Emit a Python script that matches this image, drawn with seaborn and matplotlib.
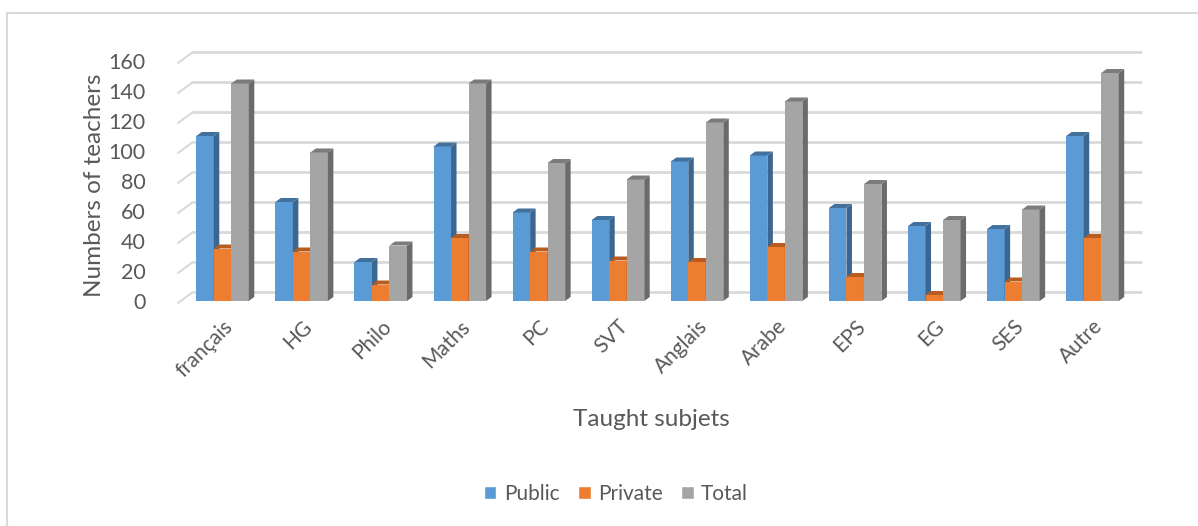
import seaborn as sns
import matplotlib.pyplot as plt
import pandas as pd
from matplotlib.patches import Polygon, Rectangle

subjects = ['français', 'HG', 'Philo', 'Maths', 'PC', 'SVT', 'Anglais',
            'Arabe', 'EPS', 'EG', 'SES', 'Autre']
public = [110, 66, 26, 103, 59, 54, 93, 97, 62, 50, 48, 110]
private = [35, 33, 11, 42, 33, 27, 26, 36, 16, 4, 13, 42]
total = [145, 99, 37, 145, 92, 81, 119, 133, 78, 54, 61, 152]
series = ['Public', 'Private', 'Total']
colors = ['#5B9BD5', '#ED7D31', '#A5A5A5']
top_colors = ['#41719C', '#B85C1F', '#7B7B7B']
side_colors = ['#3B6690', '#AE5418', '#6B6B6B']
yticks = [0, 20, 40, 60, 80, 100, 120, 140, 160]

TEXT = '#595959'
GRID = '#D9D9D9'


def main():
    df = pd.DataFrame({
        'subject': subjects * 3,
        'value': public + private + total,
        'sector': [s for s in series for _ in subjects],
    })

    sns.set_style('white')
    plt.rcParams['font.family'] = ['Lato', 'DejaVu Sans']

    W, H = 1198, 526
    fig = plt.figure(figsize=(W / 100, H / 100), dpi=100, facecolor='white')
    # axes = front plane of the pseudo-3D chart
    ax_l, ax_r, ax_b, ax_t = 183, 1132, 301, 61
    ax = fig.add_axes([ax_l / W, (H - ax_b) / H, (ax_r - ax_l) / W, (ax_b - ax_t) / H])

    sns.barplot(data=df, x='subject', y='value', hue='sector', order=subjects,
                hue_order=series, palette=colors, width=0.664, saturation=1,
                dodge=True, ax=ax, zorder=2)
    ax.set_xlim(-0.5, len(subjects) - 0.5)
    ax.set_ylim(0, 160)

    # pixel -> data conversions
    px_x = len(subjects) / (ax_r - ax_l)
    px_y = 160 / (ax_b - ax_t)

    # back-wall gridlines with a small diagonal to the front
    bx, by = 10 * px_x, 9 * px_y
    fx, fy = -5 * px_x, -2 * px_y
    x0, x1 = ax.get_xlim()
    for v in yticks:
        ax.plot([x0 + bx, x1 + bx], [v + by, v + by], color=GRID, lw=2,
                zorder=0.5, clip_on=False, solid_capstyle='butt')
        ax.plot([x0 + fx, x0 + bx], [v + fy, v + by], color=GRID, lw=1.5,
                zorder=0.5, clip_on=False)

    # 3D depth faces on every bar
    dx, dy = 5.5 * px_x, 4 * px_y
    for i, cont in enumerate(ax.containers):
        for p in cont.patches:
            x, w, h = p.get_x(), p.get_width(), p.get_height()
            p.set_zorder(2 + i * 0.1)
            p.set_linewidth(0)
            side = Polygon([(x + w, 0), (x + w + dx, dy), (x + w + dx, h + dy), (x + w, h)],
                           closed=True, facecolor=side_colors[i], edgecolor='none',
                           zorder=2.05 + i * 0.1, clip_on=False)
            top = Polygon([(x, h), (x + dx, h + dy), (x + w + dx, h + dy), (x + w, h)],
                          closed=True, facecolor=top_colors[i], edgecolor='none',
                          zorder=2.05 + i * 0.1, clip_on=False)
            ax.add_patch(side)
            ax.add_patch(top)

    for s in ax.spines.values():
        s.set_visible(False)
    ax.set_yticks(yticks)
    ax.tick_params(axis='y', length=0, pad=27, labelsize=15.5, labelcolor=TEXT)
    ax.tick_params(axis='x', length=0, pad=11, labelsize=15, labelcolor=TEXT)
    for lab in ax.get_xticklabels():
        lab.set_rotation(45)
        lab.set_ha('right')
        lab.set_rotation_mode('anchor')

    ax.set_xlabel('Taught subjets', fontsize=17.5, color=TEXT, labelpad=0)
    ax.xaxis.set_label_coords((651 - ax_l) / (ax_r - ax_l), -(409 - ax_b) / (ax_b - ax_t))
    ax.set_ylabel('Numbers of teachers', fontsize=17.5, color=TEXT)
    ax.yaxis.set_label_coords(-(ax_l - 105) / (ax_r - ax_l), (ax_b - 185) / (ax_b - ax_t))

    sns.move_legend(ax, 'center', bbox_to_anchor=(616 / W, (H - 494) / H),
                    bbox_transform=fig.transFigure, ncol=3, frameon=False,
                    title=None, fontsize=15, handlelength=0.6, handleheight=0.6,
                    handletextpad=0.35, columnspacing=0.9)
    for t in ax.get_legend().get_texts():
        t.set_color(TEXT)

    # chart area border (cropped on the right and bottom)
    fig.patches.append(Rectangle((7 / W, -0.05), 1.1, (H - 12.5) / H + 0.05,
                                 transform=fig.transFigure, fill=False,
                                 edgecolor=GRID, lw=1.5))

    fig.savefig('out.png', dpi=100, facecolor='white')
    plt.close(fig)


if __name__ == '__main__':
    main()
